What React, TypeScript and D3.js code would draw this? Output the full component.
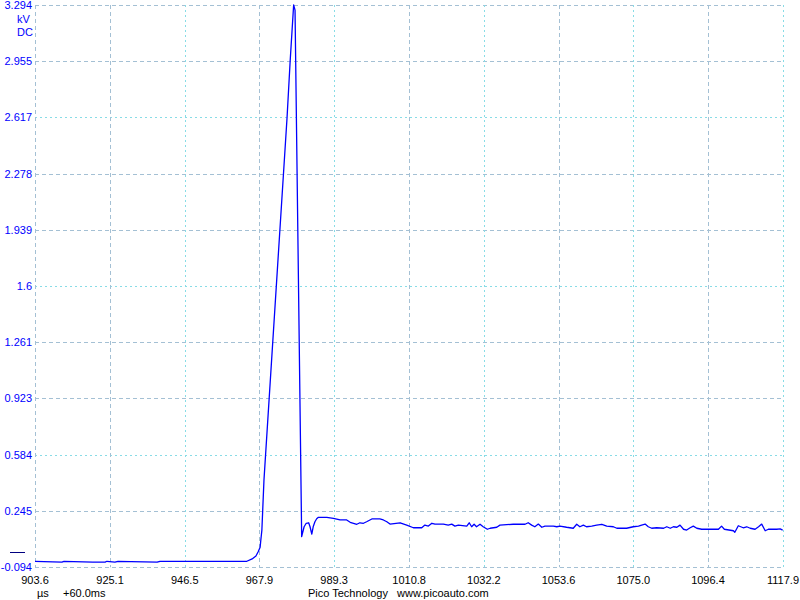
import React from "react";
import * as d3 from "d3";

const timeUs: number[] = [
  903.6, 911.3, 911.9, 920.2, 923.7, 924.2, 926.5, 927.4, 938.6, 939.4, 964.3,
  965.8, 966.9, 967.5, 968.1, 968.3, 968.6, 969.2, 975.8, 976.7, 977.7, 978.1,
  980.0, 980.7, 981.3, 982.0, 982.4, 982.9, 983.3, 983.8, 984.3, 984.8, 987.2,
  989.1, 991.0, 992.9, 993.9, 995.8, 996.7, 997.7, 998.6, 1000.1, 1002.4, 1003.4,
  1004.4, 1005.3, 1008.2, 1010.1, 1012.0, 1014.4, 1015.3, 1016.3, 1017.3, 1018.2,
  1020.6, 1022.0, 1023.0, 1023.9, 1024.9, 1027.3, 1028.0, 1028.7, 1029.4, 1030.1,
  1031.1, 1032.0, 1033.2, 1034.0, 1035.9, 1036.8, 1040.6, 1044.0, 1044.9, 1045.9,
  1046.8, 1047.8, 1048.8, 1049.7, 1052.1, 1053.1, 1054.0, 1055.9, 1057.8, 1058.8,
  1059.7, 1060.7, 1061.6, 1063.1, 1064.5, 1066.0, 1067.4, 1069.3, 1070.3, 1071.7,
  1073.1, 1075.0, 1076.5, 1077.4, 1078.4, 1079.3, 1080.3, 1081.7, 1083.7, 1084.6,
  1085.6, 1086.5, 1087.5, 1088.4, 1089.4, 1090.3, 1091.3, 1092.2, 1093.2, 1094.6,
  1097.0, 1099.4, 1100.3, 1101.1, 1103.7, 1104.1, 1105.1, 1105.8, 1106.5, 1107.5,
  1108.5, 1109.9, 1110.9, 1111.8, 1112.8, 1113.7, 1116.1, 1117.1, 1117.8,
];

const voltageKV: number[] = [
  -0.058, -0.063, -0.058, -0.063, -0.063, -0.058, -0.063, -0.058, -0.063, -0.058, -0.058,
  -0.044, -0.026, -0.002, 0.027, 0.070, 0.130, 0.432, 2.612, 2.955, 3.294, 3.263,
  0.090, 0.150, 0.171, 0.174, 0.150, 0.106, 0.150, 0.180, 0.198, 0.207, 0.207,
  0.201, 0.191, 0.191, 0.177, 0.165, 0.174, 0.171, 0.180, 0.197, 0.197, 0.191,
  0.180, 0.166, 0.174, 0.160, 0.144, 0.144, 0.160, 0.154, 0.171, 0.166,
  0.166, 0.160, 0.166, 0.154, 0.160, 0.154, 0.174, 0.150, 0.165, 0.150,
  0.165, 0.150, 0.135, 0.141, 0.147, 0.160, 0.165, 0.165, 0.174, 0.160,
  0.150, 0.166, 0.147, 0.154, 0.154, 0.150, 0.154, 0.147, 0.141, 0.165,
  0.150, 0.160, 0.150, 0.154, 0.160, 0.165, 0.154, 0.150, 0.141, 0.141,
  0.141, 0.150, 0.154, 0.160, 0.166, 0.150, 0.141, 0.144, 0.141, 0.150,
  0.141, 0.150, 0.147, 0.160, 0.135, 0.130, 0.144, 0.154, 0.141, 0.135,
  0.135, 0.135, 0.154, 0.135, 0.126, 0.117, 0.156, 0.150, 0.144, 0.150,
  0.141, 0.135, 0.150, 0.166, 0.126, 0.135, 0.135, 0.137, 0.130,
];

const xTickLabels: string[] = [
  "903.6", "925.1", "946.5", "967.9", "989.3", "1010.8",
  "1032.2", "1053.6", "1075.0", "1096.4", "1117.9",
];
const yTickLabels: string[] = [
  "-0.094", "0.245", "0.584", "0.923", "1.261", "1.6",
  "1.939", "2.278", "2.617", "2.955", "3.294",
];

const unitLines: string[] = ["kV", "DC"];
const xUnit = "µs";
const timeOffset = "+60.0ms";
const footer = "Pico Technology   www.picoauto.com";

export default function App() {
  const W = 800;
  const H = 600;
  const left = 35;
  const right = 783;
  const top = 5;
  const bottom = 567.25;

  const x = d3
    .scaleLinear()
    .domain([+xTickLabels[0], +xTickLabels[xTickLabels.length - 1]])
    .range([left, right]);
  const y = d3
    .scaleLinear()
    .domain([+yTickLabels[0], +yTickLabels[yTickLabels.length - 1]])
    .range([bottom, top]);

  const pts: [number, number][] = timeUs.map((t, i) => [t, voltageKV[i]]);
  const line = d3
    .line<[number, number]>()
    .x((d) => x(d[0]))
    .y((d) => y(d[1]));

  const font = "Arial, 'Liberation Sans', sans-serif";
  const gridColA = "#a4c0d4";
  const gridColB = "#88dce6";

  return (
    <svg
      width={W}
      height={H}
      style={{ position: "absolute", left: 0, top: 0, background: "#fff" }}
      fontFamily={font}
    >
      <rect x={0} y={0} width={W} height={H} fill="#fff" />
      {/* horizontal grid */}
      {yTickLabels.map((lab, i) => (
        <line
          key={"h" + i}
          x1={left}
          x2={right}
          y1={Math.round(y(+lab)) + 0.5}
          y2={Math.round(y(+lab)) + 0.5}
          stroke={i % 3 === 2 ? gridColB : gridColA}
          strokeWidth={1}
          strokeDasharray={i % 3 === 2 ? "2,3" : "4,3"}
        />
      ))}
      {/* vertical grid */}
      {xTickLabels.map((lab, i) => (
        <line
          key={"v" + i}
          x1={Math.round(x(+lab)) + 0.5}
          x2={Math.round(x(+lab)) + 0.5}
          y1={top}
          y2={bottom}
          stroke={i % 2 === 0 && i > 0 ? gridColB : gridColA}
          strokeWidth={1}
          strokeDasharray={i % 2 === 0 && i > 0 ? "2,3" : "4,3"}
        />
      ))}
      {/* zero marker */}
      <line
        x1={10}
        x2={25}
        y1={Math.round(y(0)) + 0.5}
        y2={Math.round(y(0)) + 0.5}
        stroke="#000080"
        strokeWidth={1}
      />
      {/* signal */}
      <path d={line(pts) || ""} fill="none" stroke="#0000ff" strokeWidth={1.3} strokeLinejoin="round" />
      {/* y labels */}
      {yTickLabels.map((lab, i) => (
        <text
          key={"yl" + i}
          x={32}
          y={y(+lab) + 4}
          fontSize={11}
          fill="#0000ff"
          textAnchor="end"
        >
          {lab}
        </text>
      ))}
      {unitLines.map((u, i) => (
        <text key={"u" + i} x={17} y={23 + i * 13} fontSize={11} fill="#0000ff">
          {u}
        </text>
      ))}
      {/* x labels */}
      {xTickLabels.map((lab, i) => (
        <text
          key={"xl" + i}
          x={x(+lab)}
          y={584}
          fontSize={11}
          fill="#000"
          textAnchor="middle"
        >
          {lab}
        </text>
      ))}
      <text x={37} y={597} fontSize={11} fill="#000">
        {xUnit}
      </text>
      <text x={63} y={597} fontSize={11} fill="#000">
        {timeOffset}
      </text>
      <text x={308} y={597} fontSize={11} fill="#000" style={{ whiteSpace: "pre" }} xmlSpace="preserve">
        {footer}
      </text>
    </svg>
  );
}
